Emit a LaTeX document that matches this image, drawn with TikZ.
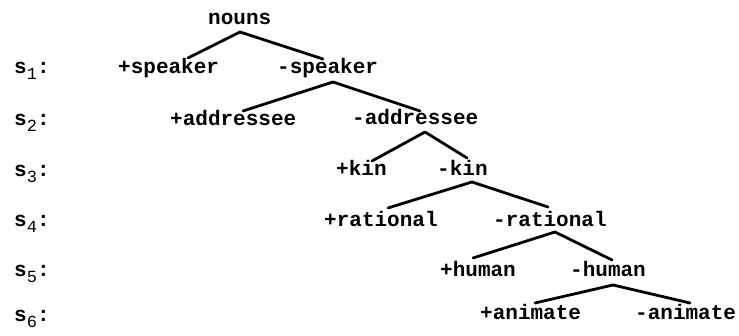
\documentclass[tikz,border=0pt]{standalone}
\usepackage{fontspec}
\setmainfont{Liberation Mono}
\usetikzlibrary{calc}
\tikzset{
  lbl/.style={anchor=base west, inner sep=0pt, font=\fontsize{21}{21}\selectfont\bfseries},
  lblb/.style={lbl},
  edge/.style={line width=2.8pt, line cap=round, line join=round},
}
\newcommand{\slab}[1]{{\bfseries s}\raisebox{-6pt}{\fontsize{17}{17}\selectfont\mdseries #1}{\bfseries:}}
\begin{document}
\begin{tikzpicture}[x=1pt,y=-1pt]
\useasboundingbox (0,0) rectangle (739,336);
% level labels
\node[lbl] (s1) at (14,74) {\slab{1}};
\node[lbl] (s2) at (14,126) {\slab{2}};
\node[lbl] (s3) at (14,177) {\slab{3}};
\node[lbl] (s4) at (14,227) {\slab{4}};
\node[lbl] (s5) at (14,277) {\slab{5}};
\node[lbl] (s6) at (14,322) {\slab{6}};
% tree nodes
\node[lblb] (nouns) at (208,25) {nouns};
\node[lblb] (sp) at (118,74) {+speaker};
\node[lblb] (sm) at (277,74) {-speaker};
\node[lblb] (ap) at (170,126) {+addressee};
\node[lblb] (am) at (352,125) {-addressee};
\node[lbl] (kp) at (336,176) {+kin};
\node[lbl] (km) at (437,176) {-kin};
\node[lbl] (rp) at (324,227) {+rational};
\node[lbl] (rm) at (493,227) {-rational};
\node[lbl] (hp) at (440,277) {+human};
\node[lbl] (hm) at (570,277) {-human};
\node[lbl] (np) at (480,320) {+animate};
\node[lbl] (nm) at (635,320) {-animate};
% connectors
\draw[edge] ($(sp.base west)+(70,-16)$) -- ($(nouns.base west)+(32,7)$) -- ($(sm.base west)+(46,-15)$);
\draw[edge] ($(ap.base west)+(73,-15)$) -- ($(sm.base west)+(56,8)$) -- ($(am.base west)+(68,-14)$);
\draw[edge] ($(kp.base west)+(36,-15)$) -- ($(am.base west)+(73,7)$) -- ($(km.base west)+(30,-18)$);
\draw[edge] ($(rp.base west)+(64,-19)$) -- ($(km.base west)+(35,6)$) -- ($(rm.base west)+(55,-20)$);
\draw[edge] ($(hp.base west)+(33,-19)$) -- ($(rm.base west)+(62,5)$) -- ($(hm.base west)+(42,-17)$);
\draw[edge] ($(np.base west)+(55,-17)$) -- ($(hm.base west)+(43,8)$) -- ($(nm.base west)+(55,-17)$);
\end{tikzpicture}
\end{document}
